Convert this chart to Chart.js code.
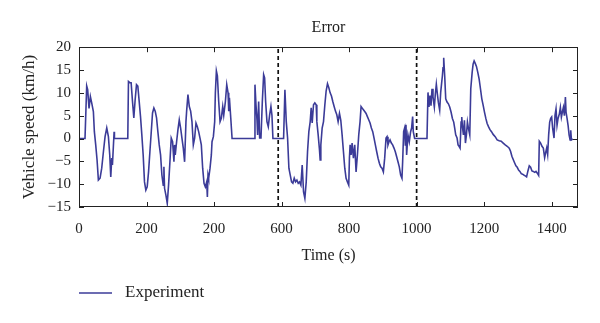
<!DOCTYPE html>
<html lang="en">

<head>
    <meta charset="UTF-8">
    <title>Error</title>
    <script src="https://cdn.jsdelivr.net/npm/chart.js"></script>
    <style>
        html, body { margin: 0; padding: 0; background: #fff; overflow: hidden; }
        .chart-container { position: relative; width: 600px; height: 323px; }
    </style>
</head>

<body>
    <div class="chart-container">
        <canvas id="errorChart" width="600" height="323"></canvas>
    </div>

    <script>
        // Data
        const timeSec = [
            0, 17.8, 22.8, 25.7, 29.7, 33.7, 37.6, 42.6, 45.5, 49.5, 53.5, 57.4, 62.4, 67.3, 72.3, 77.2, 82.2, 87.1, 91.1, 94.1,
            97, 99, 104, 105, 144.5, 146.5, 151.5, 154.4, 158.4, 162.4, 166.3, 170.3, 174.2, 178.2, 182.2, 186.1, 190.1, 194, 198, 202,
            206, 210, 213.8, 217.8, 221.8, 225.7, 229.7, 233.6, 237.6, 241.6, 245.5, 249.5, 251.5, 253.4, 257.4, 261.4, 265.3, 269.3, 273.2, 277.2,
            281.2, 283.1, 285.1, 289.1, 293, 297, 301, 304.9, 308.9, 312.8, 316.8, 318.8, 322.7, 326.7, 330.7, 334.6, 338.6, 342.5, 346.5, 350.5,
            354.4, 358.4, 362.3, 366.3, 370.3, 374.2, 378.2, 380.2, 382.1, 384.1, 388.1, 392, 394, 398, 401.9, 403.9, 406.9, 409.9, 413.8, 417.8,
            421.7, 425.7, 428.7, 433.6, 437.6, 441.5, 443.5, 445.5, 449.5, 453.4, 519.3, 521.2, 524.2, 527.2, 529.1, 532.1, 535.1, 539, 543, 546.9,
            549.8, 552.8, 556.7, 560.6, 564.6, 568.5, 571.5, 574.4, 606, 609.9, 613.9, 617.8, 621.7, 625.7, 629.6, 633.5, 637.5, 641.4, 645.4, 649.3,
            653.2, 657.2, 661.1, 665.1, 669, 673, 676.9, 680.8, 684.8, 687.7, 690.7, 694.6, 698.5, 702.5, 704.5, 708.4, 712.3, 714.3, 716.3, 720.2,
            724.2, 728.2, 732, 736, 740, 743.9, 747.8, 751.7, 755.7, 759.6, 763.6, 767.5, 771.5, 775.4, 779.3, 783.3, 787.2, 791.1, 795.1, 799,
            801, 803, 805.9, 808.9, 812.8, 816.7, 820.7, 822.7, 824.6, 828.6, 832.5, 835.5, 839.4, 842.4, 846.3, 850.3, 854.2, 858.1, 862.1, 866,
            870, 873.9, 877.8, 881.8, 885.7, 889.7, 893.6, 897.5, 901.5, 905.4, 909.4, 912.3, 915.2, 918.2, 921.2, 925.1, 929, 933, 936.9, 940.9,
            944.8, 948.7, 952.7, 956.6, 958.6, 961.6, 964.5, 966.5, 968.5, 970.4, 974.3, 978.3, 982.2, 985.2, 988.2, 990.1, 994.1, 1030.7, 1033.7, 1036.6,
            1039.6, 1042.6, 1045.6, 1048.5, 1052.5, 1055.5, 1058.4, 1061.4, 1064.4, 1068.3, 1071.3, 1074.3, 1076.3, 1078.2, 1080.2, 1083.2, 1086.2, 1090.1, 1094.1, 1098,
            1102, 1106, 1109.9, 1112.9, 1115.8, 1119.8, 1122.8, 1125.7, 1128.7, 1131.7, 1133.7, 1135.7, 1138.6, 1141.6, 1144.6, 1147.5, 1150.5, 1153.5, 1157.4, 1160.4,
            1164.5, 1167.3, 1170.3, 1173.3, 1177.2, 1181.2, 1185.2, 1189.1, 1193.1, 1197, 1201, 1205, 1208.9, 1212.9, 1216.8, 1221.8, 1226.7, 1232.7, 1238.6, 1244.6,
            1250.5, 1256.4, 1262.4, 1268.3, 1274.3, 1278.2, 1282.2, 1286.1, 1290.1, 1294.1, 1298, 1302, 1305.9, 1309.9, 1313.9, 1317.8, 1321.8, 1325.7, 1329.7, 1333.7,
            1337.6, 1341.6, 1345.6, 1349.5, 1353.5, 1357.4, 1361.4, 1363.4, 1367.3, 1371.3, 1375.3, 1379.2, 1382.2, 1385.2, 1388.1, 1391.1, 1394.1, 1397.1, 1400, 1403,
            1407, 1409.9, 1412.9, 1415.9, 1418.9, 1422.8, 1425.8, 1428.8, 1431.7, 1434.7, 1437.7, 1440.7, 1442.6, 1445.6, 1448.6, 1451.6, 1454.6, 1456.5, 1458.5, 1462.5
        ];

        const speedError = [
            0, 0, 11.5, 10.7, 6.6, 9.2, 7.8, 5.9, 1.5, -1.4, -4.7, -9.1, -8.7, -6.5, -2.9, 0.4, 2.3, 0.4, -3.6, -8.4,
            -4.3, -5.8, 1.5, 0, 0, 12.5, 12.2, 12.2, 8.2, 4.5, 8.5, 11.8, 11.5, 8.2, 4.8, 0.8, -3.6, -9.5, -11.3, -10.6,
            -7.3, -2.9, 1.2, 5.6, 6.7, 6, 4.5, 1.5, -1.4, -3.6, -8, -10.2, -6.2, -10.9, -12.4, -14.2, -10.2, -5.1, 0.1, -0.7,
            -5.1, -1.4, -3.6, -0.7, 1.9, 4.1, 2.3, 0.1, -2.1, -5.1, 3.7, 6, 9.6, 7, 6, 3.7, -1.4, 0.1, 3.4, 2.6,
            1.5, 0.1, -1.4, -6.5, -9.8, -10.6, -9.5, -12.8, -8, -8.7, -6.5, -3.6, -0.7, 0.4, 3.7, 10, 14.8, 13.7, 8.1, 3.7,
            4.5, 7, 5.1, 8.1, 11.8, 10, 6, 8.9, 4.5, 0, 0, 11.8, 7.4, 4.1, 0.8, 8.1, 0.1, 0.1, 8.1, 14,
            13.3, 8.1, 3.7, 2.6, 5.1, 7, 5.1, 0, 0, 10.7, 3.7, 0.1, -6.5, -8, -9.5, -9.8, -8.7, -9.5, -9.1, -9.8,
            -9.5, -10.2, -5.8, -11.7, -13.1, -9.5, -2.9, 1.5, 3.7, 6.7, 3.4, 7.4, 7.8, 7.4, 3.7, 0.8, -2.5, -4.7, -1.4, 2.3,
            3.7, 7.4, 10.4, 12, 11.1, 10, 9.3, 8.1, 7, 6, 5.2, 3.7, 5.5, 4, 0.8, -2.9, -6.5, -8.7, -9.5, -10.2,
            -4.3, -1.4, -3.6, -1, -4.3, -1.4, -7.3, -7.3, -3.6, 0.8, 3.7, 7, 6.6, 6.3, 5.9, 5.5, 4.8, 4.1, 3.4, 2.3,
            1.5, 0.1, -1.4, -2.9, -4.3, -5.4, -6.2, -6.5, -7.3, -4.3, 0.1, 0.4, -1.4, -0.7, -0.3, -1, -1.4, -2.1, -2.9, -4,
            -5.1, -6.2, -8, -8.7, -5.1, 1.5, 2.3, -1.4, 3, -3.6, 0.8, -0.7, 1.5, 2.3, 4.8, 1.5, 0, 0, 10.1, 6.9,
            9.4, 7.2, 10.9, 9.1, 6.9, 9.8, 11.9, 9.8, 7.9, 6.2, 10.1, 12.3, 13.7, 15.5, 17.7, 13.7, 8.7, 8, 7.6, 6.9,
            5.8, 4.4, 3.6, 2.2, 0.8, 0.1, -1.4, -1.7, -2.1, 3.6, 4.7, 2.6, 0.8, 4, -1, 0.8, 3.6, 2.2, 0.8, 10.9,
            14.5, 16.3, 17, 16.5, 15.8, 14.5, 13, 10.9, 8.7, 7.3, 5.8, 4.4, 3.3, 2.6, 2, 1.5, 0.9, 0.4, -0.3, -0.5,
            -0.6, -1, -1.4, -1.7, -2.1, -2.8, -3.9, -4.6, -5.3, -6, -6.3, -6.9, -7.2, -7.7, -7.8, -8, -8.2, -8.4, -7.1, -6,
            -6.3, -7.1, -7.2, -7.4, -7.2, -7.6, -8.1, -0.6, -1, -1.7, -2.1, -4.2, -3.1, -2.1, -3.5, 0.8, 3.6, 4.4, 4.7, 2.2,
            0.1, 5.1, 6.5, 2.9, 4.4, 5.4, 6.8, 4.7, 5.8, 6.8, 5, 9.1, 5.8, 4.4, 2.9, 0.8, -0.3, 1.8, -0.3, -0.1
        ];

        // Dashed separators (s)
        const dividerTimes = [590, 1000];

        // Tick labels exactly as printed on the original (third one reads "200")
        const xTickLabels = ['0', '200', '200', '600', '800', '1000', '1200', '1400'];

        const serif = "'Liberation Serif', 'DejaVu Serif', serif";
        const lineColor = '#3b3b98';
        const textColor = '#222';

        // Frame + inward ticks on all four sides
        const frameTicks = {
            id: 'frameTicks',
            afterDatasetsDraw(chart) {
                const { ctx, chartArea: a, scales: { x, y } } = chart;
                const len = 5;
                ctx.save();
                ctx.strokeStyle = '#222';
                ctx.lineWidth = 1;
                ctx.beginPath();
                x.ticks.forEach(t => {
                    const px = Math.round(x.getPixelForValue(t.value)) + 0.5;
                    ctx.moveTo(px, a.bottom); ctx.lineTo(px, a.bottom - len);
                    ctx.moveTo(px, a.top); ctx.lineTo(px, a.top + len);
                });
                y.ticks.forEach(t => {
                    const py = Math.round(y.getPixelForValue(t.value)) + 0.5;
                    ctx.moveTo(a.left, py); ctx.lineTo(a.left + len, py);
                    ctx.moveTo(a.right, py); ctx.lineTo(a.right - len, py);
                });
                ctx.stroke();
                ctx.strokeRect(Math.round(a.left) + 0.5, Math.round(a.top) + 0.5,
                    Math.round(a.width) - 1, Math.round(a.height) - 1);
                ctx.restore();
            }
        };

        // Legend under the plot, left aligned
        const bottomLegend = {
            id: 'bottomLegend',
            afterDraw(chart) {
                const { ctx, chartArea: a } = chart;
                const yPos = 293;
                ctx.save();
                ctx.strokeStyle = lineColor;
                ctx.lineWidth = 1.6;
                ctx.beginPath();
                ctx.moveTo(a.left, yPos);
                ctx.lineTo(a.left + 33, yPos);
                ctx.stroke();
                ctx.fillStyle = textColor;
                ctx.font = '17px ' + serif;
                ctx.textBaseline = 'middle';
                ctx.fillText('Experiment', a.left + 46, yPos);
                ctx.restore();
            }
        };

        function initChart() {
            const points = timeSec.map((t, i) => ({ x: t, y: speedError[i] }));

            const dividers = dividerTimes.map(t => ({
                label: 'divider',
                data: [{ x: t, y: -15 }, { x: t, y: 20 }],
                borderColor: '#111',
                borderWidth: 1.7,
                borderDash: [4, 3],
                pointRadius: 0,
                fill: false
            }));

            const ctx = document.getElementById('errorChart').getContext('2d');
            new Chart(ctx, {
                type: 'line',
                data: {
                    datasets: [{
                        label: 'Experiment',
                        data: points,
                        borderColor: lineColor,
                        borderWidth: 1.6,
                        pointRadius: 0,
                        tension: 0,
                        fill: false
                    }, ...dividers]
                },
                options: {
                    responsive: false,
                    animation: false,
                    events: [],
                    layout: { padding: { left: 19, right: 22, top: 0, bottom: 58 } },
                    plugins: {
                        legend: { display: false },
                        tooltip: { enabled: false },
                        title: {
                            display: true,
                            text: 'Error',
                            fullSize: false,
                            color: textColor,
                            font: { family: serif, size: 16, weight: 'normal' },
                            padding: { top: 18, bottom: 10 }
                        }
                    },
                    scales: {
                        x: {
                            type: 'linear',
                            min: 0,
                            max: 1478,
                            grid: { display: false, drawTicks: false },
                            border: { display: false },
                            afterFit: s => { s.height = 58; },
                            afterBuildTicks: s => {
                                s.ticks = xTickLabels.map((_, i) => ({ value: i * 200 }));
                            },
                            ticks: {
                                padding: 13,
                                maxRotation: 0,
                                autoSkip: false,
                                color: textColor,
                                font: { family: serif, size: 15 },
                                callback: v => xTickLabels[Math.round(v / 200)]
                            },
                            title: {
                                display: true,
                                text: 'Time (s)',
                                color: textColor,
                                font: { family: serif, size: 16 },
                                padding: 0
                            }
                        },
                        y: {
                            min: -15,
                            max: 20,
                            grid: { display: false, drawTicks: false },
                            border: { display: false },
                            afterFit: s => { s.width = 60; },
                            ticks: {
                                stepSize: 5,
                                padding: 8,
                                color: textColor,
                                font: { family: serif, size: 15 },
                                callback: v => (v < 0 ? '\u2212' + Math.abs(v) : String(v))
                            },
                            title: {
                                display: true,
                                text: 'Vehicle speed (km/h)',
                                color: textColor,
                                font: { family: serif, size: 17 },
                                padding: 0
                            }
                        }
                    }
                },
                plugins: [frameTicks, bottomLegend]
            });
        }

        document.addEventListener('DOMContentLoaded', initChart);
    </script>
</body>

</html>
